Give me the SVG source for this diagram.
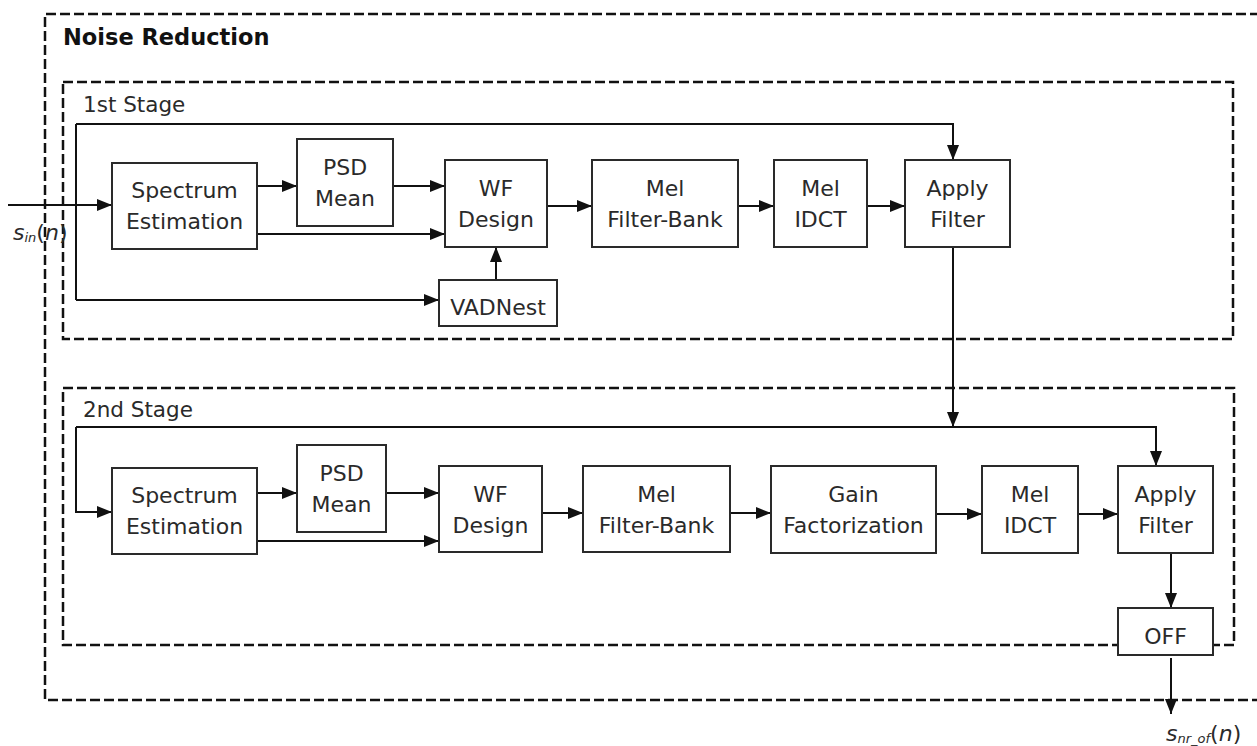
<svg xmlns="http://www.w3.org/2000/svg" width="1257" height="746" viewBox="0 0 1257 746">
<style>
  text { font-family: "DejaVu Sans", Verdana, sans-serif; fill: #2a2a2a; }
  .lbl { font-size: 22px; text-anchor: middle; }
  .title { font-size: 22.5px; font-weight: bold; fill: #111; }
  .stage { font-size: 21.5px; }
  .box { fill: #fff; stroke: #2a2a2a; stroke-width: 2; }
  .dash { fill: none; stroke: #111; stroke-width: 2.5; stroke-dasharray: 10 4; }
  .wire { fill: none; stroke: #111; stroke-width: 2; }
  .arr { marker-end: url(#ah); }
  .sig { font-size: 22px; font-style: italic; }
  .sub { font-size: 13px; }
</style>
<defs>
  <marker id="ah" markerUnits="userSpaceOnUse" markerWidth="15" markerHeight="12" refX="15" refY="6" orient="auto">
    <path d="M0,0 L15,6 L0,12 Z" fill="#111"/>
  </marker>
</defs>
<rect width="1257" height="746" fill="#fff"/>

<g id="containers">
  <path class="dash" d="M1260,14 H45 V700 H1260"/>
  <rect class="dash" x="63" y="82" width="1170" height="257"/>
  <rect class="dash" x="63" y="388" width="1171" height="257"/>
  <text class="title" x="63" y="45">Noise Reduction</text>
  <text class="stage" x="83" y="112">1st Stage</text>
  <text class="stage" x="83" y="417">2nd Stage</text>
</g>

<g id="connectors">
  <!-- stage 1 -->
  <path class="wire arr" d="M8,205 H112"/>
  <path class="wire" d="M76,124 V300"/>
  <path class="wire arr" d="M76,124 H953 V160"/>
  <path class="wire arr" d="M76,300 H439"/>
  <path class="wire arr" d="M257,186 H297"/>
  <path class="wire arr" d="M393,186 H445"/>
  <path class="wire arr" d="M257,234 H445"/>
  <path class="wire arr" d="M496,280 V247"/>
  <path class="wire arr" d="M547,206 H592"/>
  <path class="wire arr" d="M738,206 H774"/>
  <path class="wire arr" d="M867,206 H905"/>
  <path class="wire arr" d="M953,247 V427"/>
  <!-- stage 2 -->
  <path class="wire arr" d="M76,427 H1156 V466"/>
  <path class="wire arr" d="M76,427 V512 H112"/>
  <path class="wire arr" d="M257,493 H297"/>
  <path class="wire arr" d="M386,493 H439"/>
  <path class="wire arr" d="M257,541 H439"/>
  <path class="wire arr" d="M542,513 H583"/>
  <path class="wire arr" d="M730,513 H771"/>
  <path class="wire arr" d="M936,514 H982"/>
  <path class="wire arr" d="M1078,514 H1118"/>
  <path class="wire arr" d="M1171,553 V608"/>
  <path class="wire arr" d="M1171,658 V714"/>
</g>

<g id="spec1"><rect class="box" x="112" y="163" width="145" height="86"/>
  <text class="lbl" x="184.5" y="198">Spectrum</text><text class="lbl" x="184.5" y="229">Estimation</text></g>
<g id="psd1"><rect class="box" x="297" y="139" width="96" height="87"/>
  <text class="lbl" x="345" y="175">PSD</text><text class="lbl" x="345" y="206">Mean</text></g>
<g id="wf1"><rect class="box" x="445" y="160" width="102" height="87"/>
  <text class="lbl" x="496" y="196">WF</text><text class="lbl" x="496" y="227">Design</text></g>
<g id="melfb1"><rect class="box" x="592" y="160" width="146" height="87"/>
  <text class="lbl" x="665" y="196">Mel</text><text class="lbl" x="665" y="227">Filter-Bank</text></g>
<g id="idct1"><rect class="box" x="774" y="160" width="93" height="87"/>
  <text class="lbl" x="820.5" y="196">Mel</text><text class="lbl" x="820.5" y="227">IDCT</text></g>
<g id="apply1"><rect class="box" x="905" y="160" width="105" height="87"/>
  <text class="lbl" x="957.5" y="196">Apply</text><text class="lbl" x="957.5" y="227">Filter</text></g>
<g id="vad"><rect class="box" x="439" y="280" width="118" height="46"/>
  <text class="lbl" x="498" y="315">VADNest</text></g>

<g id="spec2"><rect class="box" x="112" y="468" width="145" height="86"/>
  <text class="lbl" x="184.5" y="503">Spectrum</text><text class="lbl" x="184.5" y="534">Estimation</text></g>
<g id="psd2"><rect class="box" x="297" y="445" width="89" height="87"/>
  <text class="lbl" x="341.5" y="481">PSD</text><text class="lbl" x="341.5" y="512">Mean</text></g>
<g id="wf2"><rect class="box" x="439" y="466" width="103" height="86"/>
  <text class="lbl" x="490.5" y="502">WF</text><text class="lbl" x="490.5" y="533">Design</text></g>
<g id="melfb2"><rect class="box" x="583" y="466" width="147" height="86"/>
  <text class="lbl" x="656.5" y="502">Mel</text><text class="lbl" x="656.5" y="533">Filter-Bank</text></g>
<g id="gain"><rect class="box" x="771" y="466" width="165" height="87"/>
  <text class="lbl" x="853.5" y="502">Gain</text><text class="lbl" x="853.5" y="533">Factorization</text></g>
<g id="idct2"><rect class="box" x="982" y="466" width="96" height="87"/>
  <text class="lbl" x="1030" y="502">Mel</text><text class="lbl" x="1030" y="533">IDCT</text></g>
<g id="apply2"><rect class="box" x="1118" y="466" width="95" height="87"/>
  <text class="lbl" x="1165.5" y="502">Apply</text><text class="lbl" x="1165.5" y="533">Filter</text></g>
<g id="off"><rect class="box" x="1118" y="608" width="95" height="47"/>
  <text class="lbl" x="1165.5" y="644">OFF</text></g>

<g id="signals">
  <text class="sig" x="13" y="240" font-size="21">s<tspan class="sub" dy="2">in</tspan><tspan dy="-2" font-style="normal">(</tspan>n<tspan font-style="normal">)</tspan></text>
  <text class="sig" x="1166" y="741" font-size="23">s<tspan class="sub" dy="2" font-size="14">nr_of</tspan><tspan dy="-2" font-style="normal">(</tspan>n<tspan font-style="normal">)</tspan></text>
</g>
</svg>
